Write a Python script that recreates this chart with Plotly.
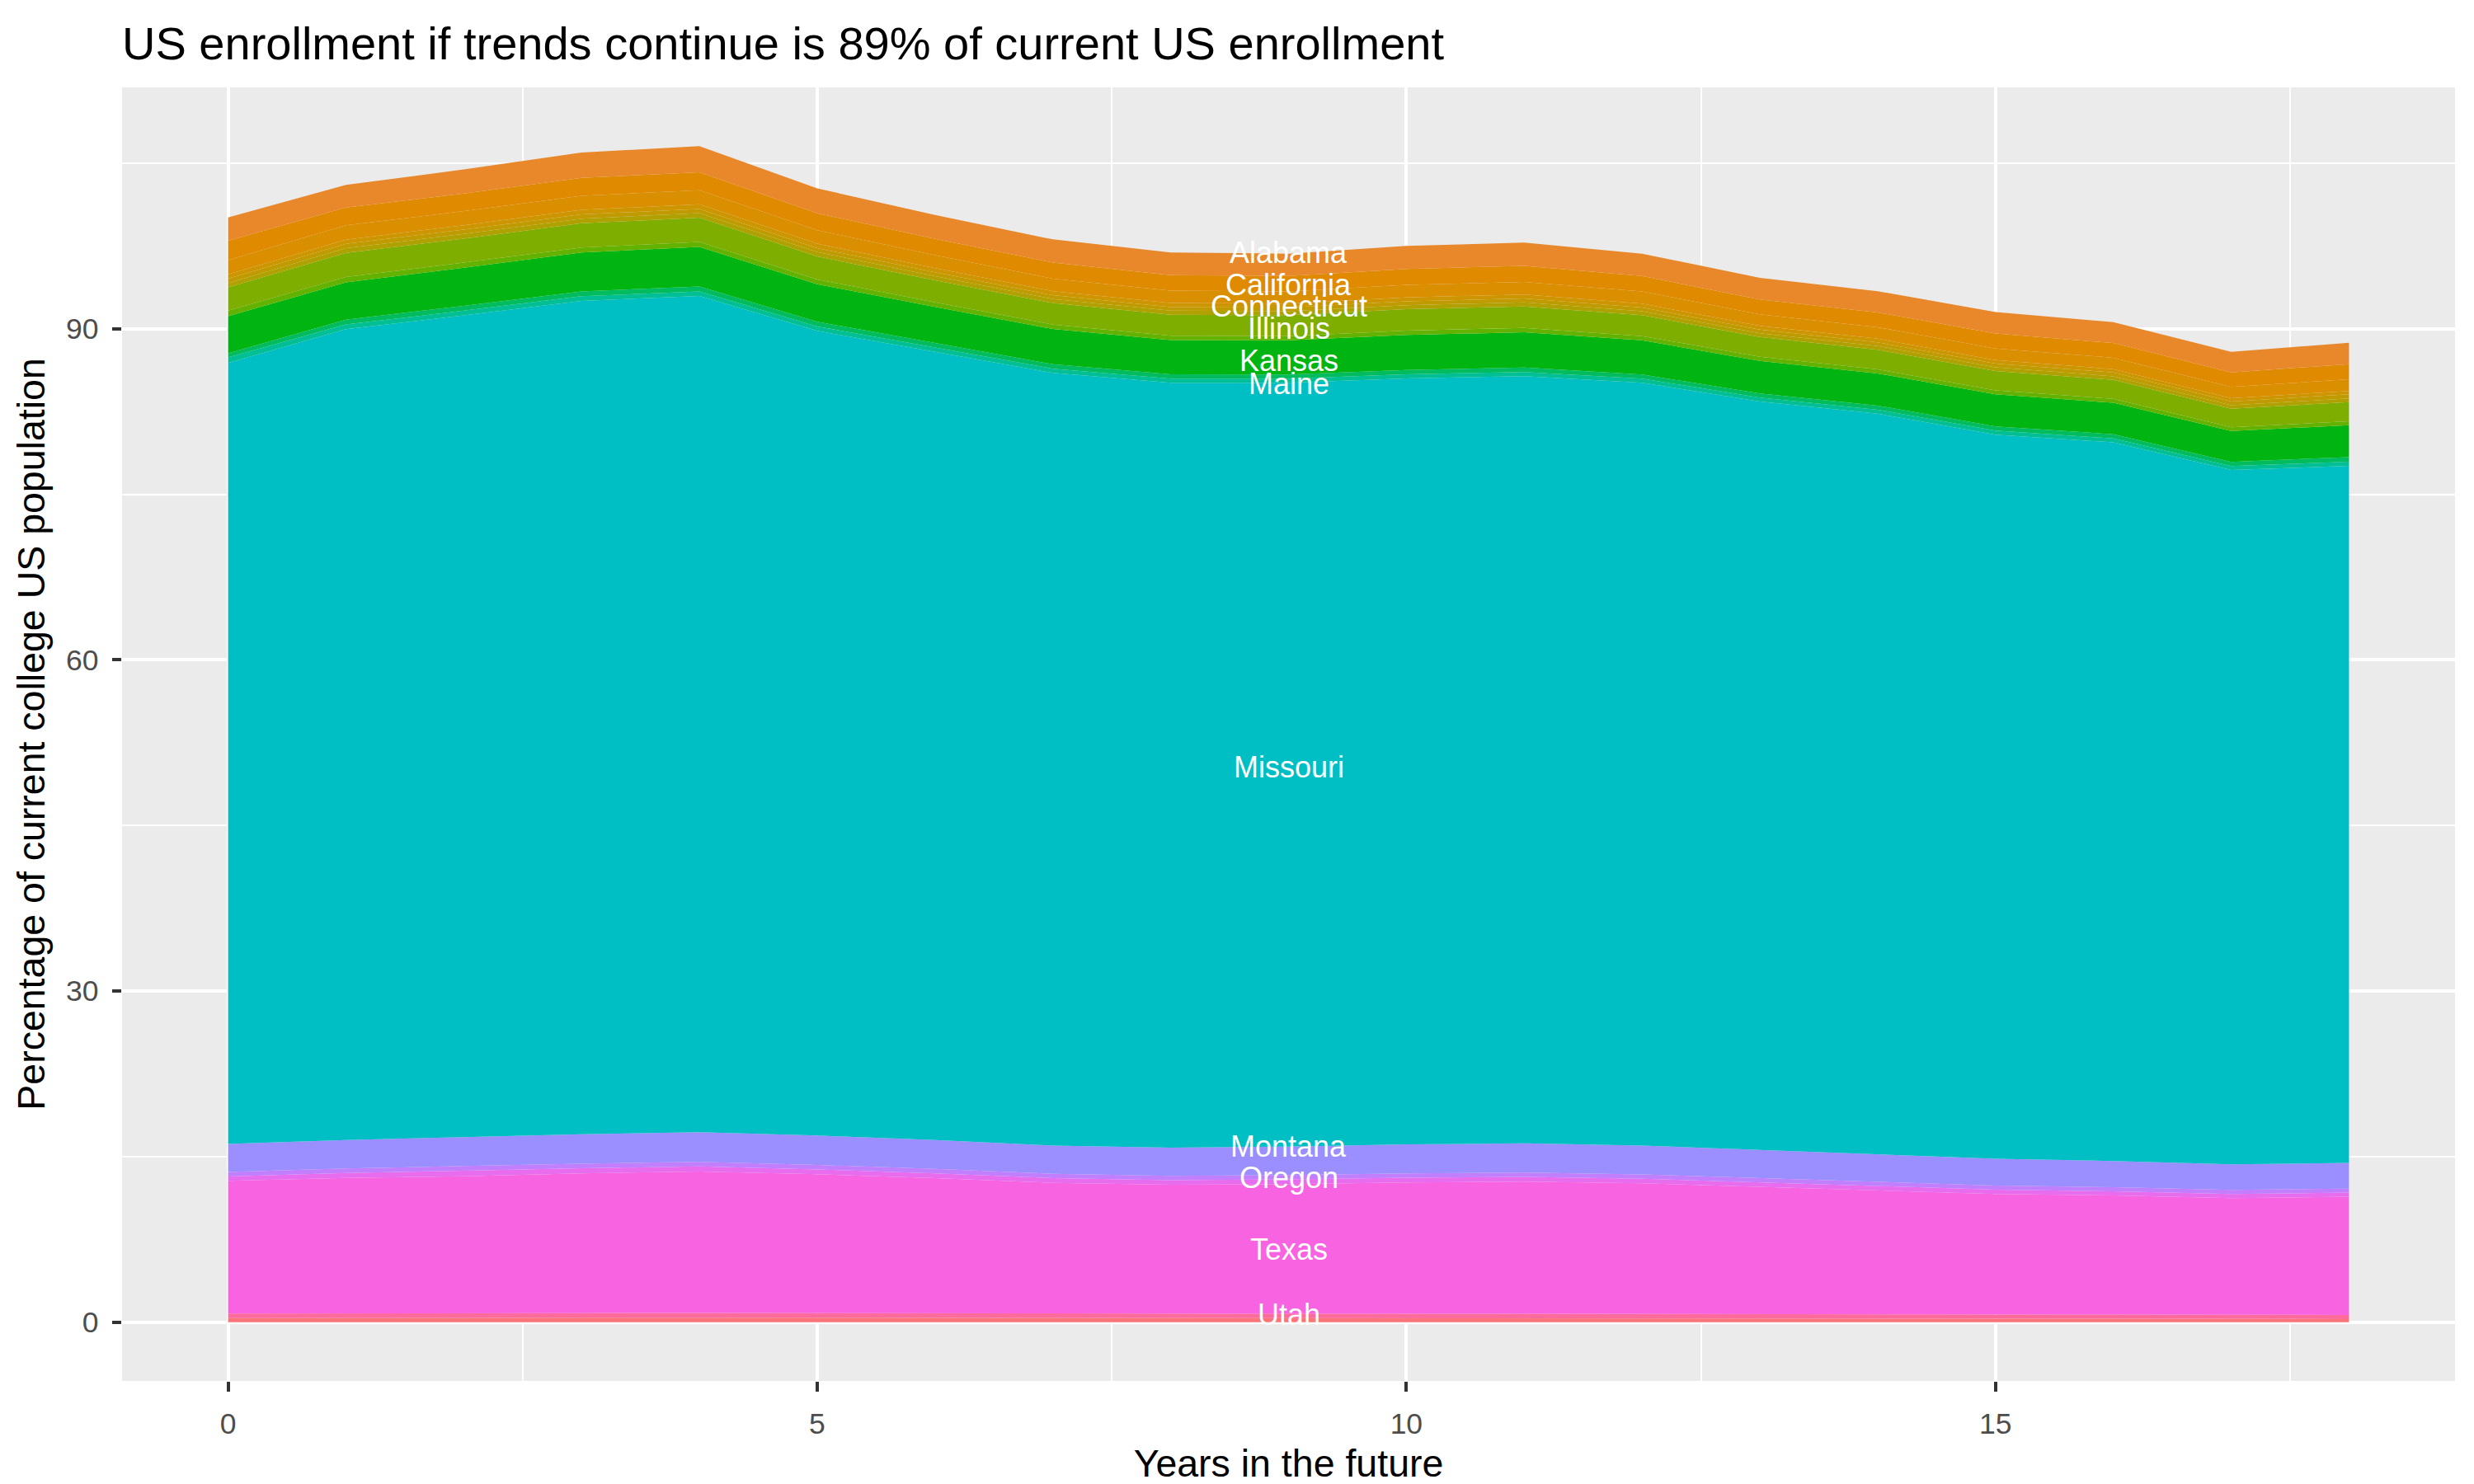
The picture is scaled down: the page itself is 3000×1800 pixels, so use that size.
import plotly.graph_objects as go

# years in the future (x axis)
years = list(range(19))

# share of current college US population per state
alabama = [2.12, 2.04, 2.18, 2.30, 2.36, 2.25, 2.16, 2.10, 2.05, 2.03, 2.09, 2.11, 2.03, 1.95, 1.93, 1.94, 1.90, 1.86, 1.94]
california = [1.74, 1.62, 1.60, 1.62, 1.62, 1.54, 1.48, 1.45, 1.41, 1.40, 1.44, 1.45, 1.40, 1.35, 1.34, 1.35, 1.33, 1.31, 1.37]
connecticut = [1.29, 1.29, 1.28, 1.28, 1.28, 1.22, 1.17, 1.14, 1.11, 1.10, 1.13, 1.14, 1.10, 1.05, 1.04, 1.05, 1.03, 1.02, 1.07]
florida = [0.40, 0.38, 0.40, 0.41, 0.42, 0.40, 0.38, 0.37, 0.37, 0.36, 0.37, 0.37, 0.36, 0.33, 0.33, 0.32, 0.31, 0.30, 0.30]
georgia = [0.40, 0.40, 0.39, 0.38, 0.38, 0.36, 0.35, 0.34, 0.33, 0.33, 0.34, 0.34, 0.33, 0.33, 0.33, 0.34, 0.34, 0.34, 0.37]
idaho = [0.38, 0.42, 0.42, 0.42, 0.42, 0.40, 0.38, 0.37, 0.36, 0.36, 0.37, 0.37, 0.36, 0.34, 0.34, 0.33, 0.33, 0.32, 0.33]
illinois = [2.12, 2.19, 2.18, 2.20, 2.19, 2.08, 2.00, 1.95, 1.91, 1.89, 1.93, 1.95, 1.89, 1.80, 1.78, 1.76, 1.72, 1.68, 1.74]
iowa = [0.50, 0.48, 0.46, 0.45, 0.45, 0.43, 0.41, 0.40, 0.39, 0.39, 0.40, 0.40, 0.39, 0.37, 0.36, 0.36, 0.35, 0.34, 0.35]
kansas = [3.36, 3.38, 3.45, 3.52, 3.58, 3.40, 3.27, 3.19, 3.11, 3.09, 3.17, 3.19, 3.09, 2.95, 2.92, 2.90, 2.85, 2.79, 2.89]
kentucky = [0.37, 0.43, 0.44, 0.44, 0.45, 0.43, 0.41, 0.40, 0.39, 0.38, 0.39, 0.40, 0.38, 0.37, 0.37, 0.38, 0.38, 0.38, 0.42]
maine = [0.50, 0.44, 0.43, 0.42, 0.42, 0.40, 0.39, 0.38, 0.37, 0.37, 0.37, 0.38, 0.37, 0.36, 0.36, 0.37, 0.36, 0.36, 0.38]
missouri = [70.76, 73.45, 74.44, 75.50, 75.76, 72.90, 71.40, 70.00, 69.30, 69.20, 69.40, 69.50, 69.10, 67.80, 67.10, 65.60, 65.10, 62.90, 63.15]
montana = [2.54, 2.58, 2.62, 2.66, 2.68, 2.66, 2.62, 2.56, 2.55, 2.58, 2.62, 2.65, 2.62, 2.55, 2.48, 2.42, 2.38, 2.32, 2.32]
oregon = [0.40, 0.41, 0.42, 0.42, 0.42, 0.41, 0.40, 0.40, 0.39, 0.39, 0.40, 0.40, 0.39, 0.39, 0.38, 0.38, 0.37, 0.37, 0.37]
pennsylvania = [0.40, 0.45, 0.50, 0.47, 0.45, 0.44, 0.43, 0.42, 0.42, 0.42, 0.42, 0.42, 0.41, 0.40, 0.40, 0.39, 0.38, 0.37, 0.37]
texas = [12.02, 12.25, 12.39, 12.65, 12.82, 12.58, 12.27, 11.86, 11.70, 11.77, 11.91, 11.98, 11.85, 11.54, 11.23, 10.92, 10.78, 10.57, 10.71]
utah = [0.42, 0.42, 0.42, 0.42, 0.42, 0.41, 0.40, 0.40, 0.39, 0.39, 0.40, 0.40, 0.39, 0.39, 0.38, 0.38, 0.38, 0.37, 0.37]
virginia = [0.36, 0.39, 0.41, 0.40, 0.41, 0.40, 0.38, 0.36, 0.35, 0.35, 0.35, 0.35, 0.34, 0.33, 0.33, 0.31, 0.31, 0.30, 0.28]

# direct labels drawn at year 9
label_names = ["Alabama", "California", "Connecticut", "Illinois", "Kansas", "Maine",
               "Missouri", "Montana", "Oregon", "Texas", "Utah"]
label_y = [96.85, 94.0, 92.0, 90.0, 87.1, 85.0, 50.25, 15.95, 13.1, 6.6, 0.72]
label_x = 9

x_ticks = [0, 5, 10, 15]
y_ticks = [0, 30, 60, 90]

# bottom of the stack first
layers = [
    ("Virginia", virginia, "#FA747A"),
    ("Utah", utah, "#FD6A9C"),
    ("Texas", texas, "#F763E0"),
    ("Pennsylvania", pennsylvania, "#E86CEE"),
    ("Oregon", oregon, "#C17EFD"),
    ("Montana", montana, "#9B8EFF"),
    ("Missouri", missouri, "#00BFC4"),
    ("Maine", maine, "#00BF95"),
    ("Kentucky", kentucky, "#00BC5E"),
    ("Kansas", kansas, "#00B512"),
    ("Iowa", iowa, "#63B200"),
    ("Illinois", illinois, "#7EAE00"),
    ("Idaho", idaho, "#AFA100"),
    ("Georgia", georgia, "#BF9B00"),
    ("Florida", florida, "#CD9600"),
    ("Connecticut", connecticut, "#DA8F00"),
    ("California", california, "#E08A00"),
    ("Alabama", alabama, "#E8882A"),
]

FONT = "Liberation Sans, Arial, Helvetica, sans-serif"

fig = go.Figure()
for name, vals, color in layers:
    fig.add_trace(go.Scatter(
        x=years, y=vals, name=name, mode="lines",
        stackgroup="one", line=dict(width=0, color=color),
        fillcolor=color, showlegend=False,
    ))

for name, ly in zip(label_names, label_y):
    fig.add_annotation(x=label_x, y=ly, text=name, showarrow=False,
                       font=dict(family=FONT, size=36, color="white"),
                       xanchor="center", yanchor="middle")

axis_common = dict(
    showline=False, zeroline=False,
    ticks="outside", ticklen=11.5, tickwidth=4.4, tickcolor="#333333",
    tickfont=dict(family=FONT, size=35.5, color="#4D4D4D"),
    ticklabelstandoff=9,
    showgrid=True, gridcolor="white", gridwidth=4.4,
    automargin=False,
)

fig.update_xaxes(
    range=[-0.9, 18.9], tickmode="array", tickvals=x_ticks,
    minor=dict(tickmode="array", tickvals=[2.5, 7.5, 12.5, 17.5], showgrid=True,
               gridcolor="white", gridwidth=2.2, ticks=""),
    title=dict(text="Years in the future", font=dict(family=FONT, size=46.5, color="black"),
               standoff=12),
    **axis_common,
)
fig.update_yaxes(
    range=[-5.33, 111.86], tickmode="array", tickvals=y_ticks,
    minor=dict(tickmode="array", tickvals=[15, 45, 75, 105], showgrid=True,
               gridcolor="white", gridwidth=2.2, ticks=""),
    title=dict(text="Percentage of current college US population",
               font=dict(family=FONT, size=46.5, color="black"), standoff=10),
    **axis_common,
)

fig.update_layout(
    width=3000, height=1800,
    margin=dict(l=140, r=31, t=98, b=133),
    paper_bgcolor="white", plot_bgcolor="#EBEBEB",
    title=dict(text="US enrollment if trends continue is 89% of current US enrollment",
               font=dict(family=FONT, size=56, color="black"),
               x=0, xref="paper", xanchor="left",
               y=1 - 44 / 1800, yref="container", yanchor="middle"),
    hovermode=False,
)

fig.write_html("out.html")
